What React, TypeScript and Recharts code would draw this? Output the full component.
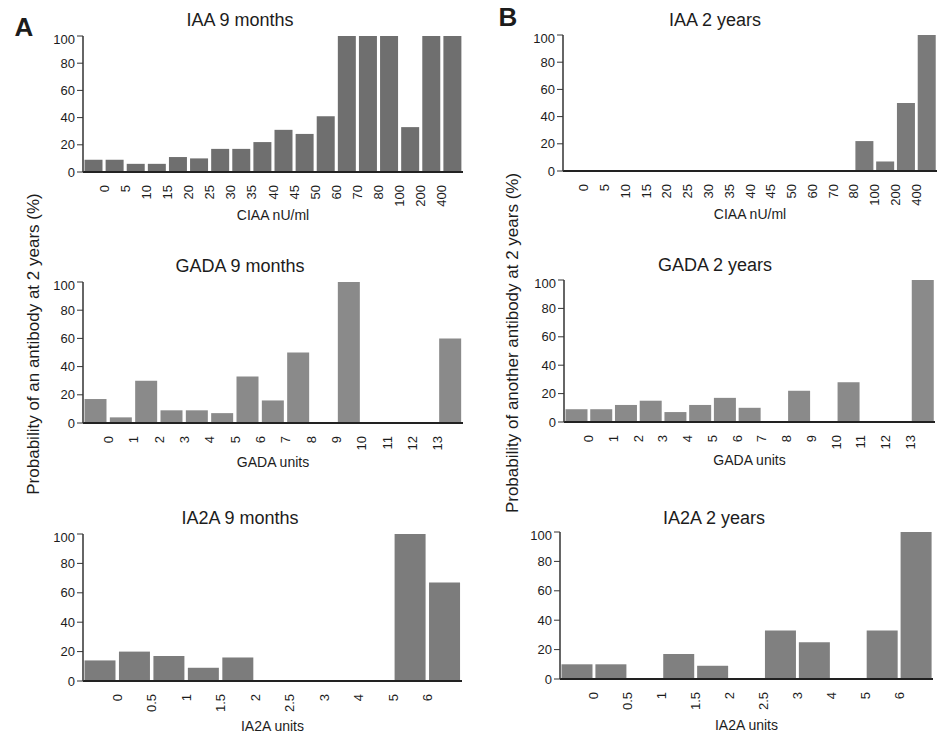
import React from 'react'
import { BarChart, Bar, XAxis, YAxis } from 'recharts'

// tick labels sit on the edges between bins; one more bin than labels
const iaaEdges = ['0', '5', '10', '15', '20', '25', '30', '35', '40', '45', '50', '60', '70', '80', '100', '200', '400']
const gadaEdges = ['0', '1', '2', '3', '4', '5', '6', '7', '8', '9', '10', '11', '12', '13']
const ia2aEdges = ['0', '0.5', '1', '1.5', '2', '2.5', '3', '4', '5', '6']

const iaa9m = [9, 9, 6, 6, 11, 10, 17, 17, 22, 31, 28, 41, 100, 100, 100, 33, 100, 100]
const iaa2y = [0, 0, 0, 0, 0, 0, 0, 0, 0, 0, 0, 0, 0, 0, 22, 7, 50, 100]
const gada9m = [17, 4, 30, 9, 9, 7, 33, 16, 50, 0, 100, 0, 0, 0, 60]
const gada2y = [9, 9, 12, 15, 7, 12, 17, 10, 0, 22, 0, 28, 0, 0, 100]
const ia2a9m = [14, 20, 17, 9, 16, 0, 0, 0, 0, 100, 67]
const ia2a2y = [10, 10, 0, 17, 9, 0, 33, 25, 0, 33, 100]

const yTicks = [0, 20, 40, 60, 80, 100]

const FONT = '"Liberation Sans", Arial, Helvetica, sans-serif'
const INK = '#1c1c1c'

const panels = [
  { title: 'IAA 9 months', xLabel: 'CIAA nU/ml', edges: iaaEdges, values: iaa9m, color: '#6f6f6f',
    left: 83, top: 36, w: 380, h: 136, tx: 240, ty: 20, lab: 38 },
  { title: 'IAA 2 years', xLabel: 'CIAA nU/ml', edges: iaaEdges, values: iaa2y, color: '#7a7a7a',
    left: 563, top: 35, w: 374, h: 136, tx: 715, ty: 20, lab: 38 },
  { title: 'GADA 9 months', xLabel: 'GADA units', edges: gadaEdges, values: gada9m, color: '#8a8a8a',
    left: 83, top: 282, w: 380, h: 141, tx: 240, ty: 266, lab: 34 },
  { title: 'GADA 2 years', xLabel: 'GADA units', edges: gadaEdges, values: gada2y, color: '#8a8a8a',
    left: 564, top: 280, w: 371, h: 142, tx: 715, ty: 265, lab: 33 },
  { title: 'IA2A 9 months', xLabel: 'IA2A units', edges: ia2aEdges, values: ia2a9m, color: '#7c7c7c',
    left: 83, top: 534, w: 379, h: 147, tx: 240, ty: 518, lab: 40 },
  { title: 'IA2A 2 years', xLabel: 'IA2A units', edges: ia2aEdges, values: ia2a2y, color: '#808080',
    left: 560, top: 532, w: 373, h: 147, tx: 714, ty: 518, lab: 41 },
]

const Y_W = 50
const M_TOP = 5
const M_RIGHT = 5
const X_H = 58

function EdgeTick(props: any) {
  const { x, y, payload, shift } = props
  if (!payload.value) return null
  const px = x - shift
  return (
    <text x={px} y={y} dy="0.35em" textAnchor="end" transform={`rotate(-90, ${px}, ${y})`}
      fontSize={13} fontFamily={FONT} fill={INK}>
      {payload.value}
    </text>
  )
}

function Panel({ p }: { p: (typeof panels)[number] }) {
  const data = p.values.map((v, i) => ({ edge: i === 0 ? '' : p.edges[i - 1], value: v }))
  const half = p.w / p.values.length / 2
  return (
    <div style={{ position: 'absolute', left: p.left - Y_W, top: p.top - M_TOP }}>
      <BarChart width={p.w + Y_W + M_RIGHT} height={p.h + M_TOP + X_H} data={data}
        margin={{ top: M_TOP, right: M_RIGHT, left: 0, bottom: 0 }} barCategoryGap={1.5}>
        <XAxis dataKey="edge" interval={0} height={X_H} tickLine={false} tickSize={0} tickMargin={13}
          axisLine={{ stroke: '#222', strokeWidth: 2 }}
          tick={(tp: any) => <EdgeTick {...tp} shift={half} />}
          label={{ value: p.xLabel, position: 'insideTop', offset: p.lab, fontSize: 14, fill: INK, fontFamily: FONT }} />
        <YAxis type="number" domain={[0, 100]} ticks={yTicks} width={Y_W} tickSize={6}
          axisLine={{ stroke: '#333', strokeWidth: 1.5 }} tickLine={{ stroke: '#333' }}
          tick={{ fontSize: 13, fill: INK, fontFamily: FONT }} />
        <Bar dataKey="value" fill={p.color} isAnimationActive={false} />
      </BarChart>
    </div>
  )
}

const centered = (x: number, y: number, extra: React.CSSProperties = {}): React.CSSProperties => ({
  position: 'absolute', left: x, top: y, transform: 'translate(-50%, -50%)', whiteSpace: 'nowrap',
  fontFamily: FONT, color: INK, lineHeight: 1, ...extra,
})

export default function App() {
  return (
    <div style={{ position: 'absolute', left: 0, top: 0, width: 942, height: 735, background: '#fff', overflow: 'hidden' }}>
      {panels.map((p) => (
        <React.Fragment key={p.title}>
          <div style={centered(p.tx, p.ty, { fontSize: 18 })}>{p.title}</div>
          <Panel p={p} />
        </React.Fragment>
      ))}
      <div style={centered(24, 27, { fontSize: 26, fontWeight: 'bold' })}>A</div>
      <div style={centered(508, 17, { fontSize: 26, fontWeight: 'bold' })}>B</div>
      <div style={centered(33, 344, { fontSize: 17, transform: 'translate(-50%, -50%) rotate(-90deg)' })}>
        Probability of an antibody at 2 years (%)
      </div>
      <div style={centered(512, 343, { fontSize: 17, transform: 'translate(-50%, -50%) rotate(-90deg)' })}>
        Probability of another antibody at 2 years (%)
      </div>
    </div>
  )
}
